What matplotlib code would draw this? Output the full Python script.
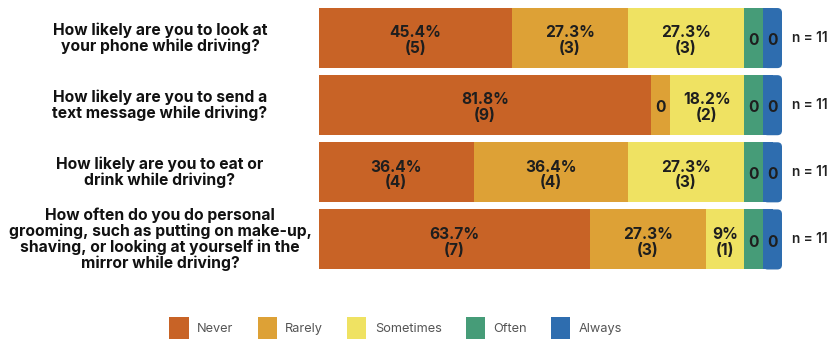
import matplotlib.pyplot as plt
from matplotlib.patches import FancyBboxPatch, Patch

plt.rcParams['font.family'] = ['Inter', 'DejaVu Sans']

questions = [
    "How likely are you to look at\nyour phone while driving?",
    "How likely are you to send a\ntext message while driving?",
    "How likely are you to eat or\ndrink while driving?",
    "How often do you do personal\ngrooming, such as putting on make-up,\nshaving, or looking at yourself in the\nmirror while driving?",
]
answers = ["Never", "Rarely", "Sometimes", "Often", "Always"]
colors = ["#C86326", "#DDA136", "#EFE262", "#469C78", "#2E6DAF"]

# share of respondents (%) and counts per answer, one list per question
never_pct = [45.4, 81.8, 36.4, 63.7]
rarely_pct = [27.3, 0, 36.4, 27.3]
sometimes_pct = [27.3, 18.2, 27.3, 9]
often_pct = [0, 0, 0, 0]
always_pct = [0, 0, 0, 0]

never_n = [5, 9, 4, 7]
rarely_n = [3, 0, 4, 3]
sometimes_n = [3, 2, 3, 1]
often_n = [0, 0, 0, 0]
always_n = [0, 0, 0, 0]

totals = [11, 11, 11, 11]

pcts = [never_pct, rarely_pct, sometimes_pct, often_pct, always_pct]
counts = [never_n, rarely_n, sometimes_n, often_n, always_n]

W, H = 828, 341
AX_L, AX_W = 319, 463
fig = plt.figure(figsize=(W / 100, H / 100), dpi=100)
ax = fig.add_axes([AX_L / W, 68 / H, AX_W / W, 268.5 / H])
ax.set_xlim(0, 100)
ax.set_ylim(len(questions) - 0.5, -0.5)
ax.axis("off")

ZERO_W = 19 / AX_W * 100      # empty answers still get a thin slot
BAR_H = 0.895
RADIUS = 1.0
aspect = (len(questions) / 268.5) / (100 / AX_W)
px = 100 / AX_W  # one pixel in x data units

for i, q in enumerate(questions):
    vals = [p[i] for p in pcts]
    nz = sum(v for v in vals if v > 0)
    room = 100 - ZERO_W * sum(1 for v in vals if v == 0)
    left = 0
    for j, v in enumerate(vals):
        w = v / nz * room if v > 0 else ZERO_W
        if j == len(vals) - 1:
            # rounded right end of the bar
            ax.barh(i, w / 2, left=left, height=BAR_H, color=colors[j], lw=0)
            ax.add_patch(FancyBboxPatch((left, i - BAR_H / 2), w, BAR_H,
                                        boxstyle=f"round,pad=0,rounding_size={RADIUS}",
                                        mutation_aspect=aspect, fc=colors[j], lw=0))
        else:
            ax.barh(i, w, left=left, height=BAR_H, color=colors[j], lw=0)
        if v > 0:
            lbl = f"{v:g}%\n({counts[j][i]})"
        else:
            lbl = "0"
        ax.text(left + w / 2, i + 0.04, lbl, ha="center", va="center", fontsize=11.2,
                fontweight="bold", color="#1e1e1e", linespacing=1.08)
        left += w
    ax.text((160 - AX_L) * px, i, q, ha="center", va="center",
            fontsize=11.3, fontweight="bold", color="#111111", linespacing=1.05,
            clip_on=False)
    ax.text((792 - AX_L) * px, i, f"n = {totals[i]}", ha="left", va="center",
            fontsize=9.8, fontweight="semibold", color="#222222", clip_on=False)

handles = [Patch(facecolor=c, edgecolor="none", label=a) for a, c in zip(answers, colors)]
fig.legend(handles=handles, loc="center", bbox_to_anchor=(0.478, 0.038), ncol=5,
           frameon=False, fontsize=9.2, labelcolor="#555555", handlelength=1.5,
           handleheight=2.3, handletextpad=0.65, columnspacing=1.9)

fig.savefig("out.png", dpi=100, facecolor="white")
